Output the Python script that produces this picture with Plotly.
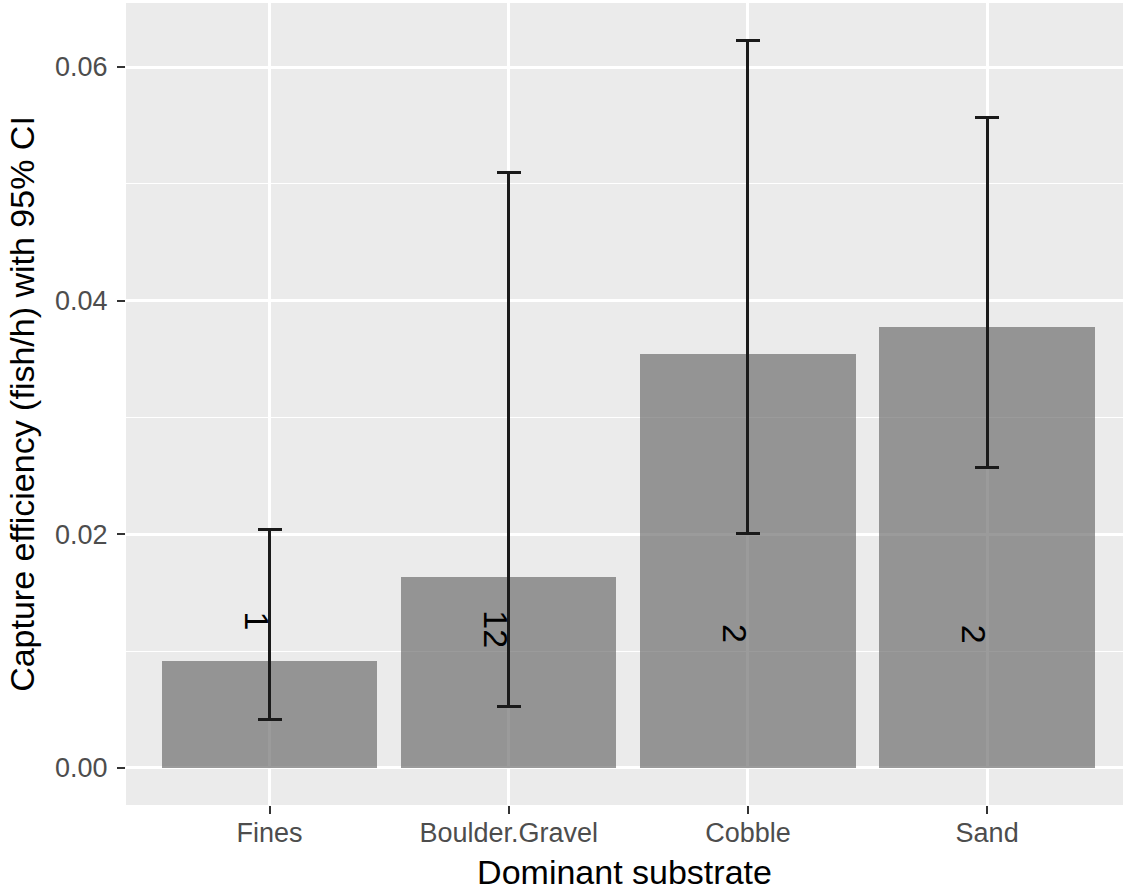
import plotly.graph_objects as go

# Capture efficiency by dominant substrate, with 95% confidence intervals
categories = ["Fines", "Boulder.Gravel", "Cobble", "Sand"]
efficiency = [0.00916, 0.01635, 0.03544, 0.03775]
ci_lower = [0.00411, 0.00525, 0.02005, 0.02576]
ci_upper = [0.02045, 0.05100, 0.06230, 0.05564]
n_labels = ["1", "12", "2", "2"]
label_y = [0.01258, 0.01190, 0.01147, 0.01147]

y_ticks = [0.00, 0.02, 0.04, 0.06]

err_plus = [u - m for u, m in zip(ci_upper, efficiency)]
err_minus = [m - l for m, l in zip(efficiency, ci_lower)]

FONT = "Liberation Sans, Arial, sans-serif"

fig = go.Figure(
    go.Bar(
        x=categories,
        y=efficiency,
        width=0.9,
        marker=dict(color="rgba(102,102,102,0.65)", line_width=0),
        error_y=dict(
            type="data",
            symmetric=False,
            array=err_plus,
            arrayminus=err_minus,
            color="#1a1a1a",
            thickness=3,
            width=12,
        ),
        showlegend=False,
    )
)

# sample-size labels, rotated to read top-to-bottom
for cat, ly, txt in zip(categories, label_y, n_labels):
    fig.add_annotation(
        x=cat, y=ly, xref="x", yref="y",
        text=txt, textangle=90, showarrow=False,
        font=dict(family=FONT, size=34, color="#000000"),
        xshift=-13,
    )

fig.update_layout(
    width=1123,
    height=892,
    margin=dict(l=126, r=0, t=3, b=87, pad=0),
    paper_bgcolor="white",
    plot_bgcolor="#EBEBEB",
    font=dict(family=FONT),
    bargap=0,
)

fig.update_xaxes(
    type="category",
    range=[-0.6, 3.568],
    showgrid=True, gridcolor="white", gridwidth=2.5,
    zeroline=False, showline=False,
    ticks="outside", ticklen=8, tickwidth=2, tickcolor="#333333",
    ticklabelstandoff=-4,
    tickfont=dict(family=FONT, size=27, color="#4D4D4D"),
    title=dict(text="Dominant substrate", standoff=12,
               font=dict(family=FONT, size=34, color="#000000")),
    automargin=False,
)

fig.update_yaxes(
    range=[-0.00317, 0.06548],
    tickvals=y_ticks,
    ticktext=[f"{v:.2f}" for v in y_ticks],
    showgrid=True, gridcolor="white", gridwidth=2.5,
    minor=dict(dtick=0.01, tick0=0, showgrid=True, gridcolor="white", gridwidth=1.2, ticks=""),
    zeroline=False, showline=False,
    ticks="outside", ticklen=8, tickwidth=2, tickcolor="#333333",
    ticklabelstandoff=4,
    tickfont=dict(family=FONT, size=27, color="#4D4D4D"),
    title=dict(text="Capture efficiency (fish/h) with 95% CI", standoff=10,
               font=dict(family=FONT, size=34, color="#000000")),
    automargin=False,
)

fig.write_html("out.html")
